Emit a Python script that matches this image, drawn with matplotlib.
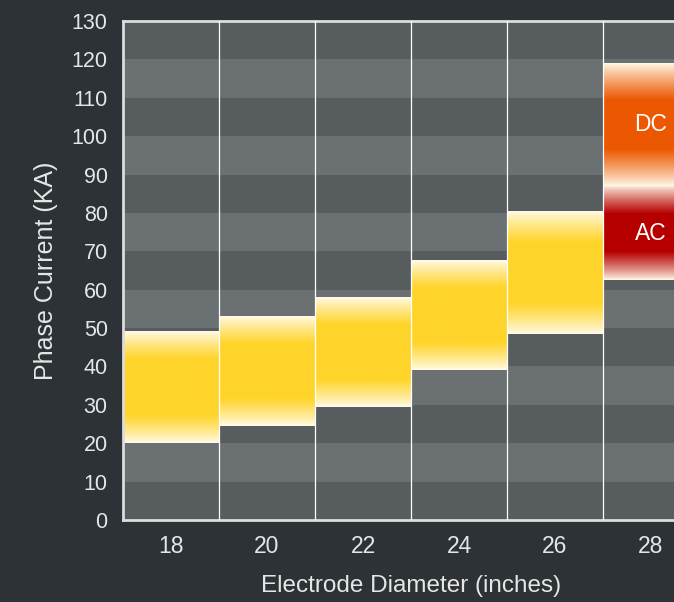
import numpy as np
import matplotlib
matplotlib.use("Agg")
import matplotlib.pyplot as plt
from matplotlib.colors import to_rgb

# Electrode diameter (inches) and phase-current ranges (kA)
diameters = ["18", "20", "22", "24", "26", "28"]
range_low = [20, 24.5, 29.5, 39, 48.5]
range_high = [49, 53, 58, 67.5, 80.5]
ac_range = [62.5, 87]
dc_range = [87, 119]
y_ticks = list(range(0, 131, 10))

BG = "#2c3235"
BAND_DARK = "#575c5f"
BAND_LIGHT = "#6b7073"
TEXT = "#e6e6e6"
YELLOW = "#ffd42a"
ORANGE = "#ec5802"
RED = "#b60000"
EDGE = "#fffbea"

plt.rcParams["font.family"] = ["Liberation Sans", "DejaVu Sans"]

fig = plt.figure(figsize=(6.74, 6.02), dpi=100, facecolor=BG)
ax = fig.add_axes([123 / 674, 82 / 602, 576 / 674, 499 / 602])
ax.set_facecolor(BAND_DARK)

ax.set_xlim(-0.5, len(diameters) - 0.5)
ax.set_ylim(0, 130)

# alternating horizontal bands
for i, lo in enumerate(y_ticks[:-1]):
    ax.axhspan(lo, lo + 10, color=BAND_DARK if i % 2 == 0 else BAND_LIGHT,
               lw=0, zorder=0)


def gradient_bar(ax, x, lo, hi, base, fade=0.25):
    """Fill a column range with a colour that fades to white at both ends."""
    n = 256
    t = np.linspace(0, 1, n)
    w = np.clip(np.minimum(t, 1 - t) / fade, 0, 1)
    w = w ** 0.85
    c0 = np.array(to_rgb(EDGE))
    c1 = np.array(to_rgb(base))
    img = c0[None, :] * (1 - w[:, None]) + c1[None, :] * w[:, None]
    img = img[:, None, :]
    ax.imshow(img, extent=(x - 0.5, x + 0.5, lo, hi), origin="lower",
              aspect="auto", interpolation="bilinear", zorder=2)


for i, (lo, hi) in enumerate(zip(range_low, range_high)):
    gradient_bar(ax, i, lo, hi, YELLOW)

x28 = len(diameters) - 1
gradient_bar(ax, x28, ac_range[0], ac_range[1], RED, fade=0.3)
gradient_bar(ax, x28, dc_range[0], dc_range[1], ORANGE, fade=0.3)
ax.text(x28, sum(ac_range) / 2, "AC", color="white", fontsize=16.5,
        ha="center", va="center", zorder=4)
ax.text(x28, sum(dc_range) / 2, "DC", color="white", fontsize=16.5,
        ha="center", va="center", zorder=4)

# column separators
for i in range(len(diameters) - 1):
    ax.axvline(i + 0.5, color="white", lw=0.9, zorder=3)

ax.set_xticks(range(len(diameters)))
ax.set_xticklabels(diameters)
ax.set_yticks(y_ticks)
ax.tick_params(axis="both", length=0, colors=TEXT)
ax.tick_params(axis="x", labelsize=16.5, pad=10.5)
ax.tick_params(axis="y", labelsize=15.5, pad=11)

for side in ["left", "bottom", "top"]:
    ax.spines[side].set_color("#dcdcdc")
    ax.spines[side].set_linewidth(2)
ax.spines["right"].set_visible(False)

ax.set_xlabel("Electrode Diameter (inches)", color=TEXT, fontsize=17.5, labelpad=12.5)
ax.set_ylabel("Phase Current (KA)", color=TEXT, fontsize=18, labelpad=10)

fig.savefig("out.png", dpi=100, facecolor=BG)
